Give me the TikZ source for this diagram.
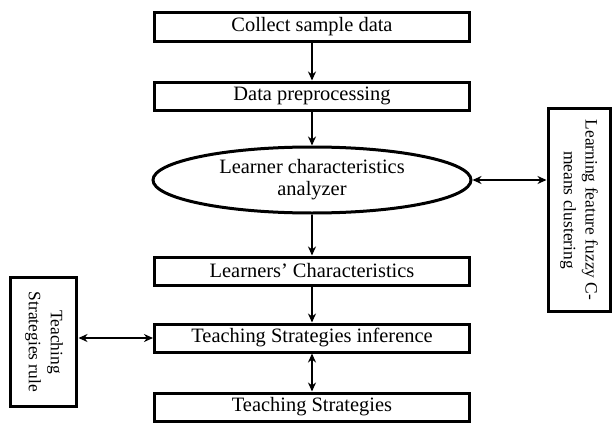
\documentclass[tikz,border=0pt]{standalone}
\usepackage{fontspec}
\setmainfont{Liberation Serif}
\usetikzlibrary{shapes,arrows,arrows.meta,positioning}

\begin{document}
\begin{tikzpicture}[->,>={Stealth[length=9bp,width=8bp]},line width=1.5bp,node distance=69bp]
\tikzstyle{every node}=[font=\fontsize{20.5}{22}\selectfont]
\tikzstyle{box}=[draw=black,line width=3bp,rectangle,minimum width=315bp,minimum height=28bp,inner sep=0pt]
\tikzstyle{oval}=[draw=black,line width=3bp,ellipse,minimum width=318bp,minimum height=66bp,align=center,inner sep=0pt]
\tikzstyle{side}=[draw=black,line width=3bp,rectangle,align=center,inner sep=0pt,font=\fontsize{17.5}{22}\selectfont,rotate=-90]
\useasboundingbox (-312bp,27bp) rectangle (300bp,-400bp);
\node[box](collect){Collect sample data};
\node[box][below of=collect](prep){Data preprocessing};
\node[oval][below of=prep,node distance=84bp](ana){Learner characteristics\\analyzer};
\node[box][below of=ana,node distance=91bp](chars){Learners' Characteristics};
\node[box][below of=chars,node distance=67bp](infer){Teaching Strategies inference};
\node[box][below of=infer](strat){Teaching Strategies};
\node[left of=infer,node distance=268bp,yshift=-4bp,minimum width=129bp,minimum height=66bp][side](rule){Teaching\\Strategies rule};
\node[right of=ana,node distance=267bp,yshift=-30bp,minimum width=203bp,minimum height=62bp][side](fuzzy){Learning feature fuzzy C-\\means clustering};
\path (collect)edge(prep)
      (prep)edge(ana)
      (ana)edge(chars)
      (chars)edge(infer)
      (infer)edge[<->](strat)
      (ana.east)edge[<->](ana.east -| fuzzy.south)
      (infer.west)edge[<->](infer.west -| rule.north);
\end{tikzpicture}
\end{document}
